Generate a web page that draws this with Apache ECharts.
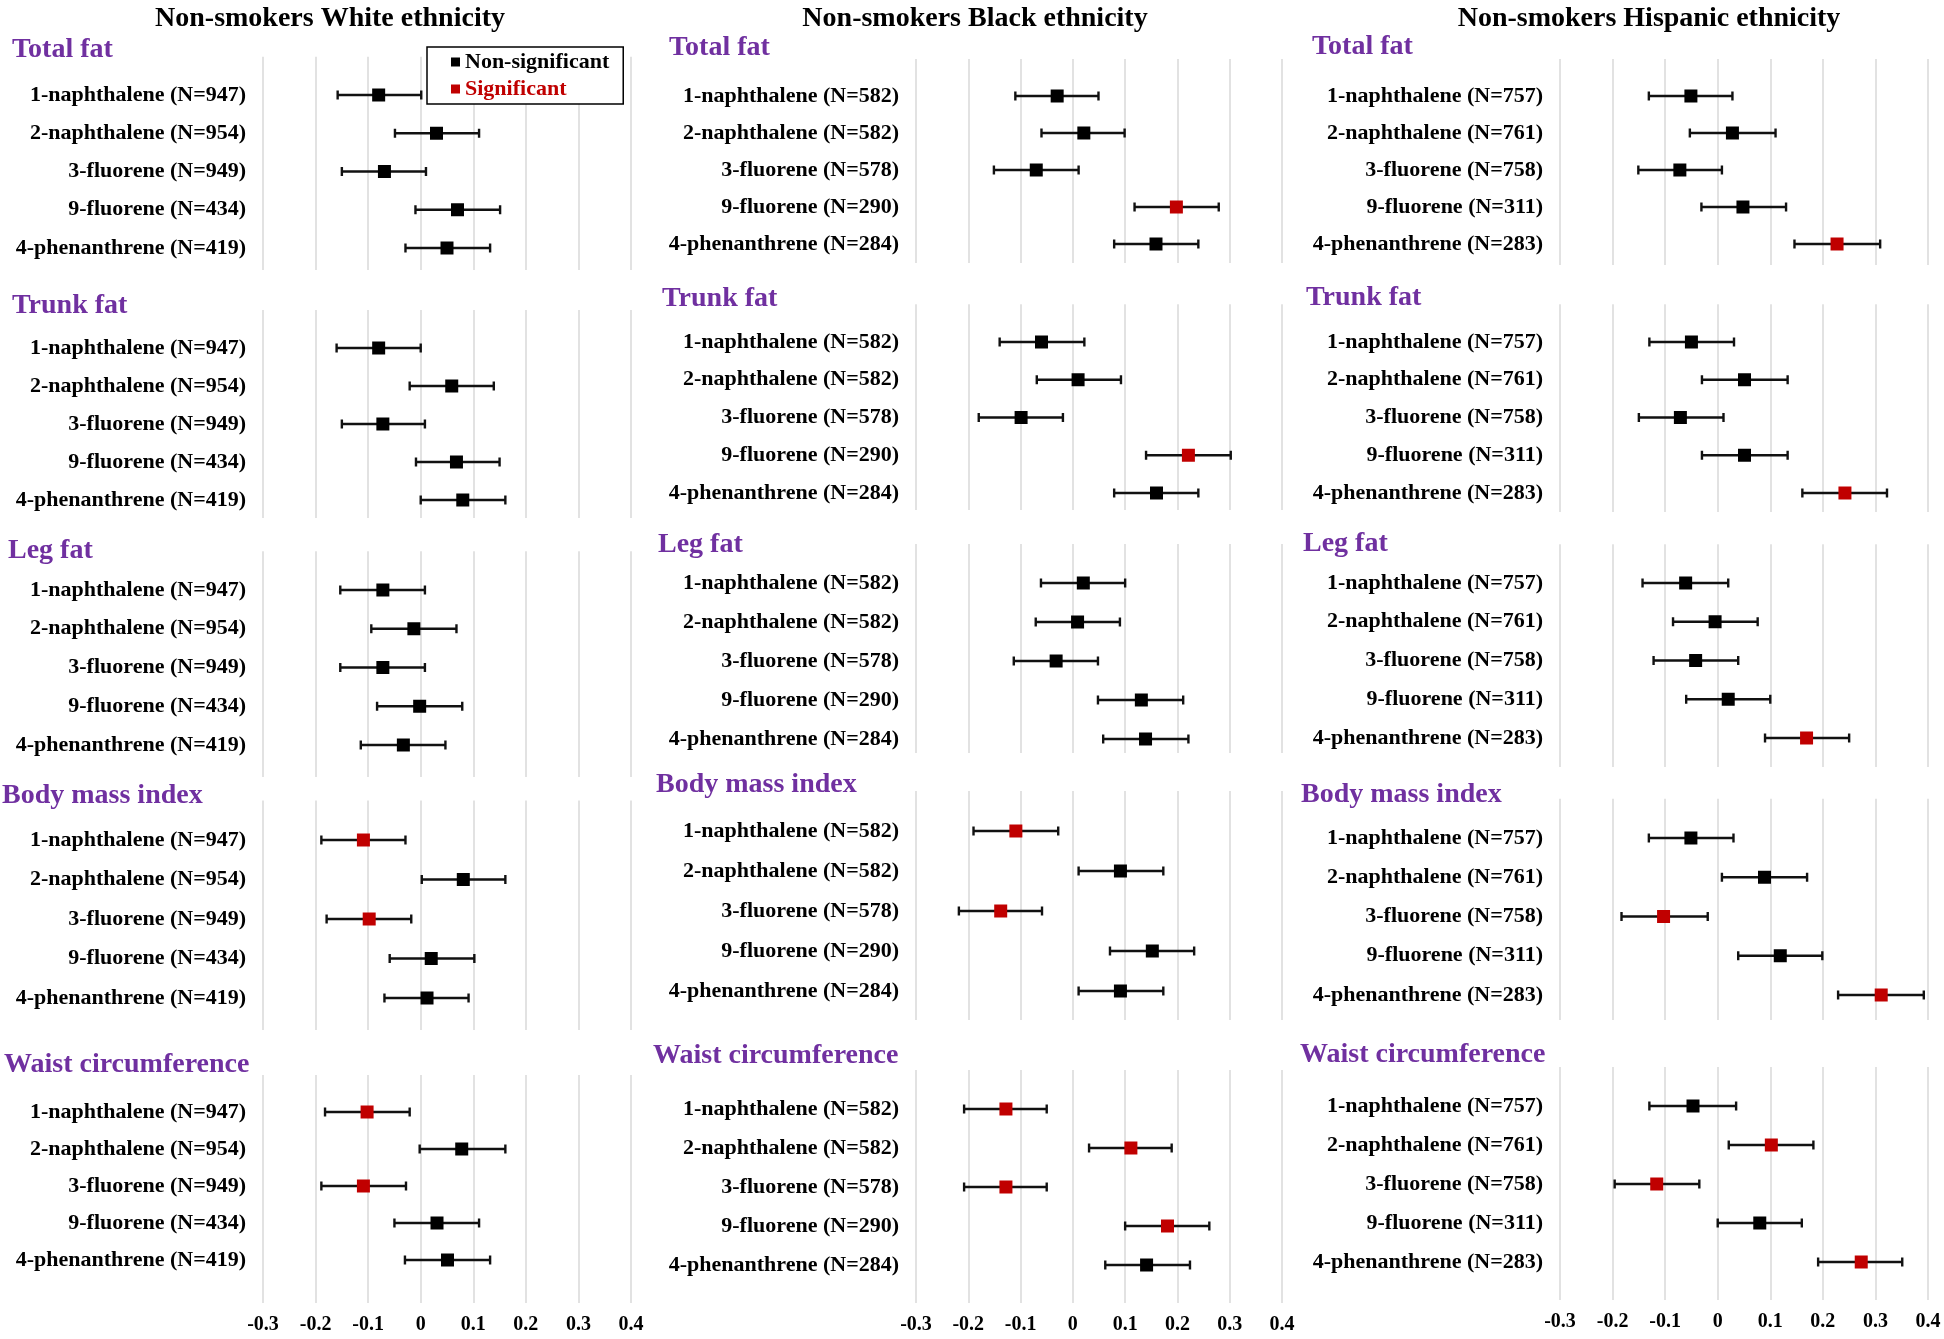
<!DOCTYPE html>
<html><head><meta charset="utf-8">
<script src="https://cdn.jsdelivr.net/npm/echarts@6/dist/echarts.min.js"></script>
<style>html,body{margin:0;padding:0;background:#fff}#c{width:1944px;height:1339px}</style>
</head><body><div id="c"></div>
<script>
// ---------- DATA ----------
const groupTitles = ['Non-smokers White ethnicity', 'Non-smokers Black ethnicity', 'Non-smokers Hispanic ethnicity'];
const outcomes = ['Total fat', 'Trunk fat', 'Leg fat', 'Body mass index', 'Waist circumference'];
const compounds = ['1-naphthalene', '2-naphthalene', '3-fluorene', '9-fluorene', '4-phenanthrene'];
const nWhite = [947, 954, 949, 434, 419];
const nBlack = [582, 582, 578, 290, 284];
const nHispanic = [757, 761, 758, 311, 283];
const xTicks = [-0.3, -0.2, -0.1, 0, 0.1, 0.2, 0.3, 0.4];
const legendNames = ['Non-significant', 'Significant'];

// each row: [estimate, lower CI, upper CI, significant(1/0)]
const whiteTotalFat = [[-0.080,-0.158,0.001,0],[0.030,-0.049,0.111,0],[-0.069,-0.150,0.010,0],[0.070,-0.010,0.151,0],[0.050,-0.029,0.132,0]];
const whiteTrunkFat = [[-0.080,-0.160,0.000,0],[0.059,-0.021,0.139,0],[-0.072,-0.150,0.008,0],[0.068,-0.009,0.150,0],[0.080,0.000,0.161,0]];
const whiteLegFat   = [[-0.072,-0.153,0.008,0],[-0.013,-0.094,0.068,0],[-0.072,-0.153,0.008,0],[-0.002,-0.083,0.079,0],[-0.033,-0.114,0.047,0]];
const whiteBMI      = [[-0.109,-0.189,-0.029,1],[0.081,0.002,0.161,0],[-0.098,-0.179,-0.018,1],[0.020,-0.059,0.102,0],[0.012,-0.069,0.091,0]];
const whiteWaist    = [[-0.102,-0.182,-0.021,1],[0.078,-0.002,0.161,0],[-0.109,-0.189,-0.028,1],[0.031,-0.050,0.111,0],[0.051,-0.030,0.132,0]];

const blackTotalFat = [[-0.030,-0.110,0.049,0],[0.021,-0.060,0.099,0],[-0.070,-0.151,0.011,0],[0.198,0.118,0.279,1],[0.159,0.079,0.240,0]];
const blackTrunkFat = [[-0.060,-0.140,0.022,0],[0.010,-0.069,0.092,0],[-0.099,-0.180,-0.019,0],[0.221,0.140,0.302,1],[0.160,0.079,0.240,0]];
const blackLegFat   = [[0.020,-0.061,0.100,0],[0.009,-0.071,0.090,0],[-0.032,-0.113,0.048,0],[0.131,0.048,0.211,0],[0.139,0.058,0.221,0]];
const blackBMI      = [[-0.109,-0.190,-0.028,1],[0.091,0.011,0.173,0],[-0.138,-0.218,-0.059,1],[0.152,0.071,0.232,0],[0.091,0.011,0.173,0]];
const blackWaist    = [[-0.128,-0.208,-0.050,1],[0.111,0.031,0.189,1],[-0.128,-0.208,-0.050,1],[0.181,0.100,0.261,1],[0.141,0.062,0.224,0]];

const hispTotalFat  = [[-0.051,-0.131,0.028,0],[0.028,-0.053,0.110,0],[-0.072,-0.151,0.008,0],[0.048,-0.031,0.130,0],[0.227,0.146,0.309,1]];
const hispTrunkFat  = [[-0.050,-0.130,0.031,0],[0.051,-0.030,0.133,0],[-0.071,-0.150,0.011,0],[0.051,-0.030,0.133,0],[0.242,0.161,0.322,1]];
const hispLegFat    = [[-0.061,-0.143,0.020,0],[-0.005,-0.085,0.076,0],[-0.042,-0.122,0.039,0],[0.020,-0.060,0.100,0],[0.169,0.090,0.250,1]];
const hispBMI       = [[-0.051,-0.131,0.030,0],[0.089,0.008,0.170,0],[-0.103,-0.183,-0.019,1],[0.119,0.039,0.199,0],[0.311,0.229,0.392,1]];
const hispWaist     = [[-0.047,-0.130,0.035,0],[0.102,0.021,0.182,1],[-0.116,-0.196,-0.035,1],[0.080,0.000,0.160,0],[0.273,0.191,0.351,1]];

// ---------- LAYOUT / STYLE ----------
const columns = [
  { n: nWhite, data: [whiteTotalFat, whiteTrunkFat, whiteLegFat, whiteBMI, whiteWaist] },
  { n: nBlack, data: [blackTotalFat, blackTrunkFat, blackLegFat, blackBMI, blackWaist] },
  { n: nHispanic, data: [hispTotalFat, hispTrunkFat, hispLegFat, hispBMI, hispWaist] }
];
const colX = [[263, 631], [916, 1282], [1560, 1928]];
const titleX = [330, 975, 1649];
const panelLayout = [ // [grid bottom, first row y, last row y]
  [[270, 95, 248], [518, 348, 500], [777, 590, 745], [1030, 840, 998], [1303, 1112, 1260]],
  [[263, 96, 244], [510, 342, 493], [753, 583, 739], [1020, 831, 991], [1303, 1109, 1265]],
  [[265, 96, 244], [512, 342, 493], [767, 583, 738], [1020, 838, 995], [1300, 1106, 1262]]
];
const sectionPos = [
  [[12, 48], [12, 304], [8, 549], [2, 794], [4, 1063]],
  [[669, 46], [662, 297], [658, 543], [656, 783], [653, 1054]],
  [[1312, 45], [1306, 296], [1303, 542], [1301, 793], [1300, 1053]]
];
const SERIF = "'Liberation Serif', 'Times New Roman', serif";
const RED = '#C00000';
const PURPLE = '#7030A0';

function renderItem(params, api) {
  const row = api.value(0);
  const est = api.coord([api.value(1), row]);
  const lo = api.coord([api.value(2), row]);
  const hi = api.coord([api.value(3), row]);
  const cap = 4.5, sz = 13;
  const ls = { stroke: '#111', lineWidth: 2.4 };
  return {
    type: 'group',
    children: [
      { type: 'line', shape: { x1: lo[0], y1: lo[1], x2: hi[0], y2: hi[1] }, style: ls },
      { type: 'line', shape: { x1: lo[0], y1: lo[1] - cap, x2: lo[0], y2: lo[1] + cap }, style: ls },
      { type: 'line', shape: { x1: hi[0], y1: hi[1] - cap, x2: hi[0], y2: hi[1] + cap }, style: ls },
      { type: 'rect', shape: { x: est[0] - sz / 2, y: est[1] - sz / 2, width: sz, height: sz }, style: { fill: api.visual('color') } }
    ]
  };
}

const grid = [], xAxis = [], yAxis = [], series = [], title = [];

groupTitles.forEach((t, c) => {
  title.push({ text: t, left: titleX[c], top: 5, textAlign: 'center', padding: 0,
    textStyle: { fontFamily: SERIF, fontWeight: 'bold', fontSize: 28, lineHeight: 28, color: '#000' } });
});

columns.forEach((col, c) => {
  const labels = compounds.map((name, i) => name + ' (N=' + col.n[i] + ')');
  outcomes.forEach((outName, o) => {
    const idx = c * 5 + o;
    const [bottom, r0, r4] = panelLayout[c][o];
    const s = (r4 - r0) / 4;
    const top = r0 - s;
    const yMax = 4 + (bottom - r4) / s;
    grid.push({ left: colX[c][0], width: colX[c][1] - colX[c][0], top: top, height: bottom - top, outerBoundsMode: 'none' });
    xAxis.push({
      gridIndex: idx, type: 'value', min: xTicks[0], max: xTicks[xTicks.length - 1], interval: 0.1,
      axisLine: { show: false }, axisTick: { show: false },
      splitLine: { show: true, lineStyle: { color: '#D9D9D9', width: 1.5 } },
      axisLabel: { show: o === 4, margin: 12, fontFamily: SERIF, fontWeight: 'bold', fontSize: 20, color: '#000' }
    });
    yAxis.push({
      gridIndex: idx, type: 'value', inverse: true, min: -1, max: yMax, interval: 1,
      axisLine: { show: false }, axisTick: { show: false }, splitLine: { show: false },
      axisLabel: {
        margin: 17, fontFamily: SERIF, fontWeight: 'bold', fontSize: 22, color: '#000',
        formatter: v => {
          const r = Math.round(v);
          return (Math.abs(v - r) < 1e-6 && r >= 0 && r < labels.length) ? labels[r] : '';
        }
      }
    });
    const rows = col.data[o].map((d, i) => ({ row: i, d }));
    [0, 1].forEach(sig => {
      series.push({
        name: legendNames[sig], type: 'custom', xAxisIndex: idx, yAxisIndex: idx,
        itemStyle: { color: sig ? RED : '#000' },
        renderItem: renderItem,
        encode: { x: [1, 2, 3], y: 0 },
        data: rows.filter(r => r.d[3] === sig).map(r => [r.row, r.d[0], r.d[1], r.d[2]]),
        silent: true, animation: false
      });
    });
    const [sx, sy] = sectionPos[c][o];
    title.push({ text: outName, left: sx, top: sy - 12, padding: 0,
      textStyle: { fontFamily: SERIF, fontWeight: 'bold', fontSize: 28, lineHeight: 28, color: PURPLE } });
  });
});

const chart = echarts.init(document.getElementById('c'), null, { renderer: 'canvas' });
chart.setOption({
  backgroundColor: '#fff',
  animation: false,
  title: title,
  legend: {
    data: [{ name: legendNames[0], textStyle: { color: '#000' } }, { name: legendNames[1], textStyle: { color: RED } }],
    orient: 'vertical', left: 427, top: 47, icon: 'rect', itemWidth: 9, itemHeight: 9, itemGap: 5,
    padding: [4, 14, 4, 24], borderColor: '#000', borderWidth: 1.5, backgroundColor: '#fff',
    selectedMode: false,
    textStyle: { fontFamily: SERIF, fontWeight: 'bold', fontSize: 22, lineHeight: 22 }
  },
  grid: grid, xAxis: xAxis, yAxis: yAxis, series: series
});
</script></body></html>
